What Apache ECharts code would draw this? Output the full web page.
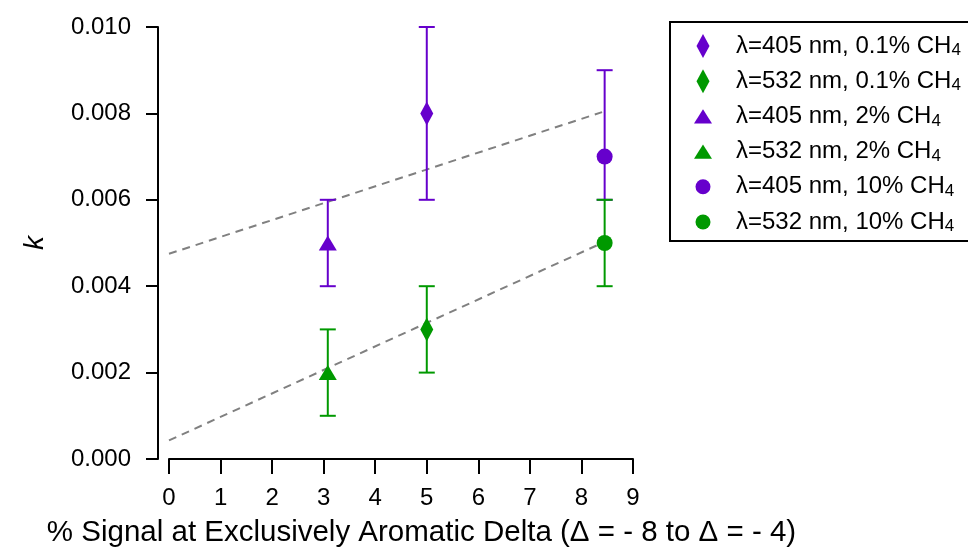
<!DOCTYPE html>
<html>
<head>
<meta charset="utf-8">
<script src="https://cdn.jsdelivr.net/npm/echarts@6/dist/echarts.min.js"></script>
<style>
html,body{margin:0;padding:0;background:#fff;}
#chart{width:968px;height:550px;}
</style>
</head>
<body>
<div id="chart"></div>
<script>
// ---- data ----
const seriesNames = [
  'λ=405 nm, 0.1% CH4',
  'λ=532 nm, 0.1% CH4',
  'λ=405 nm, 2% CH4',
  'λ=532 nm, 2% CH4',
  'λ=405 nm, 10% CH4',
  'λ=532 nm, 10% CH4'
];
const xPos  = [5.0, 5.0, 3.08, 3.08, 8.45, 8.45];
const kVals = [0.008, 0.003, 0.005, 0.002, 0.007, 0.005];
const kLow  = [0.006, 0.002, 0.004, 0.001, 0.006, 0.004];
const kHigh = [0.010, 0.004, 0.006, 0.003, 0.009, 0.006];
const fitX      = [0, 8.4];
const fitUpper  = [0.00475, 0.00803];
const fitLower  = [0.00043, 0.00500];
const xTicks = [0,1,2,3,4,5,6,7,8,9];

// ---- styles ----
const PURPLE = '#6600cc';
const GREEN = '#009900';
const colors = [PURPLE, GREEN, PURPLE, GREEN, PURPLE, GREEN];
const DIAMOND = 'path://M0,-12L6.5,0L0,12L-6.5,0Z';
const TRI = 'path://M0,-7.5L9.5,7.5L-9.5,7.5Z';
const LCIRCLE = 'path://M-9,-12M9,12M7.5,0A7.5,7.5,0,1,1,-7.5,0A7.5,7.5,0,1,1,7.5,0Z';
const symbols = [DIAMOND, DIAMOND, 'triangle', 'triangle', 'circle', 'circle'];
const symbolSizes = [[13,24],[13,24],[18,15],[18,15],16,16];
const legendIcons = [DIAMOND, DIAMOND, TRI, TRI, LCIRCLE, LCIRCLE];

const chart = echarts.init(document.getElementById('chart'));
const FONT = 'Liberation Sans, Arial, sans-serif';

const series = [];
// fit lines
[fitUpper, fitLower].forEach((arr, i) => {
  series.push({
    type: 'line',
    name: 'fit' + i,
    data: fitX.map((x, j) => [x, arr[j]]),
    showSymbol: false,
    symbol: 'none',
    clip: false,
    silent: true,
    lineStyle: { color: '#808080', width: 2, type: [8, 6] },
    z: 1
  });
});
// error bars + points
seriesNames.forEach((name, i) => {
  series.push({
    type: 'custom',
    name: name,
    data: [[xPos[i], kLow[i], kHigh[i]]],
    renderItem: function (params, api) {
      const x = api.value(0);
      const lo = api.coord([x, api.value(1)]);
      const hi = api.coord([x, api.value(2)]);
      const cw = 8;
      const st = { stroke: colors[i], lineWidth: 2 };
      return {
        type: 'group',
        children: [
          { type: 'line', shape: { x1: lo[0], y1: lo[1], x2: hi[0], y2: hi[1] }, style: st },
          { type: 'line', shape: { x1: lo[0]-cw, y1: lo[1], x2: lo[0]+cw, y2: lo[1] }, style: st },
          { type: 'line', shape: { x1: hi[0]-cw, y1: hi[1], x2: hi[0]+cw, y2: hi[1] }, style: st }
        ]
      };
    },
    itemStyle: { color: colors[i] },
    z: 2 + i
  });
  series.push({
    type: 'scatter',
    name: name,
    data: [[xPos[i], kVals[i]]],
    symbol: symbols[i],
    symbolSize: symbolSizes[i],
    itemStyle: { color: colors[i], opacity: 1 },
    z: 10 + i
  });
});

chart.setOption({
  animation: false,
  backgroundColor: '#fff',
  textStyle: { fontFamily: FONT },
  grid: { left: 169, right: 335, top: 27, bottom: 91, containLabel: false, outerBoundsMode: 'none' },
  legend: {
    orient: 'vertical',
    left: 670,
    top: 22,
    borderColor: '#000',
    borderWidth: 2,
    padding: [12, 30, 6, 24],
    itemGap: 10.2,
    itemWidth: 18,
    itemHeight: 24,
    selectedMode: false,
    data: seriesNames.map((n, i) => ({ name: n, icon: legendIcons[i], itemStyle: { color: colors[i] } })),
    formatter: function (n) {
      return '{t|' + n.slice(0, -1) + '}{s|' + n.slice(-1) + '}';
    },
    textStyle: {
      color: '#000',
      fontFamily: FONT,
      padding: [0, 0, 0, 19],
      rich: {
        t: { fontSize: 24, fontFamily: FONT, color: '#000', lineHeight: 26 },
        s: { fontSize: 17, fontFamily: FONT, color: '#000', lineHeight: 2, verticalAlign: 'bottom' }
      }
    }
  },
  xAxis: {
    type: 'value',
    min: 0, max: 9, interval: 1,
    name: '% Signal at Exclusively Aromatic Delta (Δ = - 8 to Δ = - 4)',
    nameLocation: 'middle',
    nameGap: 59,
    nameTextStyle: { fontSize: 29.5, color: '#000', fontFamily: FONT, padding: [0, 0, 0, 41] },
    axisLine: { show: true, onZero: false, lineStyle: { color: '#000', width: 2 } },
    axisTick: { show: true, inside: false, length: 15, lineStyle: { color: '#000', width: 2 } },
    axisLabel: { fontSize: 24, color: '#000', margin: 27, fontFamily: FONT,
      formatter: v => xTicks.indexOf(v) >= 0 ? String(v) : '' },
    splitLine: { show: false }
  },
  yAxis: {
    type: 'value',
    min: 0, max: 0.010, interval: 0.002,
    offset: 11,
    name: 'k',
    nameLocation: 'middle',
    nameRotate: 90,
    nameGap: 109,
    nameTextStyle: { fontSize: 28, fontStyle: 'italic', color: '#000', fontFamily: FONT },
    axisLine: { show: true, onZero: false, lineStyle: { color: '#000', width: 2 } },
    axisTick: { show: true, inside: false, length: 12, lineStyle: { color: '#000', width: 2 } },
    axisLabel: { fontSize: 24, color: '#000', margin: 27, fontFamily: FONT,
      formatter: v => v.toFixed(3) },
    splitLine: { show: false }
  },
  series: series
});
</script>
</body>
</html>
